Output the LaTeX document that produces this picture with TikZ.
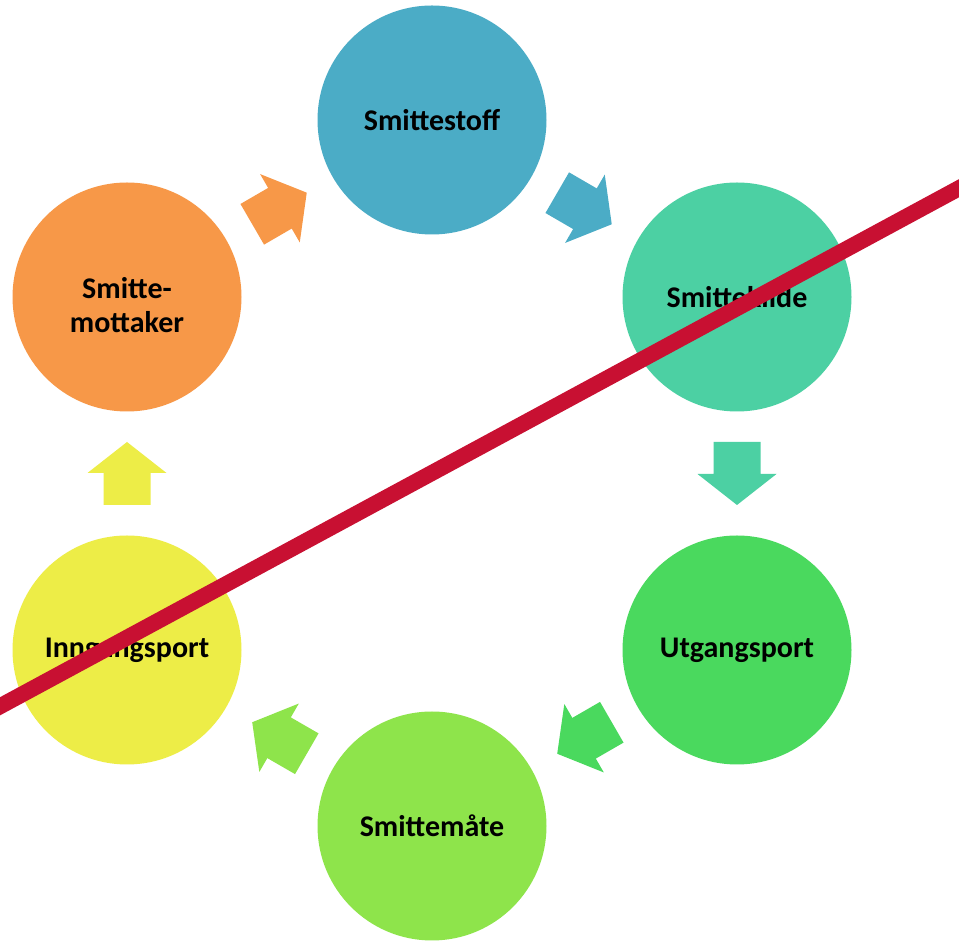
\documentclass[tikz,border=0pt]{standalone}
\usepackage{fontspec}
\setmainfont{Carlito}
\usetikzlibrary{calc}
\definecolor{cblue}{RGB}{75,172,198}
\definecolor{cteal}{RGB}{76,208,163}
\definecolor{cgreen}{RGB}{74,217,94}
\definecolor{clime}{RGB}{142,228,75}
\definecolor{cyellow}{RGB}{237,237,71}
\definecolor{corange}{RGB}{247,152,72}
\definecolor{cred}{RGB}{200,16,50}
\tikzset{
  stage/.style={circle, minimum size=229pt, inner sep=0pt, draw=none, align=center,
    font=\bfseries\fontsize{30}{34}\selectfont, text=black},
  barrow/.pic={\fill[pic actions] (-31.5,-23.5) -- (0.5,-23.5) -- (0.5,-39.5) -- (31.5,0)
     -- (0.5,39.5) -- (0.5,23.5) -- (-31.5,23.5) -- cycle;},
  crossline/.style={draw=cred, line width=16pt}
}
\newcommand{\linkarrow}[3]{%
  \path let \p1=($(#2)-(#1)$), \n1={atan2(\y1,\x1)} in
    pic[fill=#3, rotate=\n1] at ($(#1)!0.5!(#2)$) {barrow};}
\begin{document}
\begin{tikzpicture}[x=1pt,y=1pt]
\useasboundingbox[fill=white] (0,0) rectangle (959,942);
\node[stage, fill=cblue]   (stoff)   at (432,822) {Smittestoff};
\node[stage, fill=cteal]   (kilde)   at (737,645) {Smittekilde};
\node[stage, fill=cgreen]  (ut)      at (737,292) {Utgangsport};
\node[stage, fill=clime]   (maate)   at (432,116) {Smittemåte};
\node[stage, fill=cyellow] (inn)     at (127,292) {Inngangsport};
\node[stage, fill=corange] (mott)    at (127,645) {\rule{0pt}{38pt}Smitte-\\mottaker};
\linkarrow{mott.center}{stoff.center}{corange}
\linkarrow{stoff.center}{kilde.center}{cblue}
\linkarrow{kilde.center}{ut.center}{cteal}
\linkarrow{ut.center}{maate.center}{cgreen}
\linkarrow{maate.center}{inn.center}{clime}
\linkarrow{inn.center}{mott.center}{cyellow}
\coordinate (lstart) at (-5,233);
\coordinate (lend) at (965,757);
\draw[crossline] (lstart) -- (lend);
\end{tikzpicture}
\end{document}
